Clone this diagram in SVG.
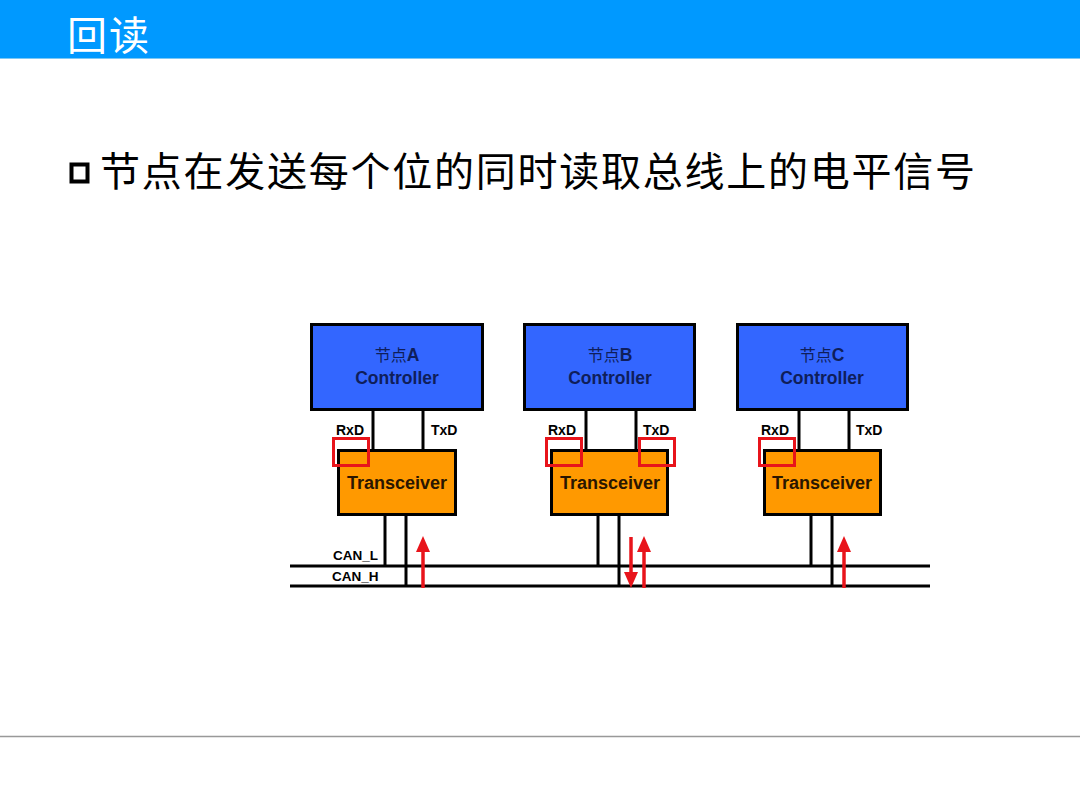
<svg xmlns="http://www.w3.org/2000/svg" width="1080" height="810" viewBox="0 0 1080 810">
<defs>
<style>
.ctrl{fill:#3366FF;stroke:#000;stroke-width:3}
.trx{fill:#FF9900;stroke:#000;stroke-width:3}
.ctext{font-family:"Liberation Sans","Noto Sans CJK SC",sans-serif;font-size:17.5px;font-weight:bold;fill:#0F1E5A;text-anchor:middle}
.cjk{font-weight:normal;font-size:16px}
.ttext{font-family:"Liberation Sans",sans-serif;font-size:18px;font-weight:bold;fill:#2A1600;text-anchor:middle}
.lbl{font-family:"Liberation Sans",sans-serif;font-size:14px;font-weight:bold;fill:#000}
.bus{font-family:"Liberation Sans",sans-serif;font-size:13.5px;font-weight:bold;fill:#000}
.wire{stroke:#000;stroke-width:3;fill:none}
.hl{fill:none;stroke:#E8141B;stroke-width:3}
.arr{stroke:#E8141B;stroke-width:3.5;fill:none}
.ah{fill:#E8141B}
</style>
</defs>
<rect x="0" y="0" width="1080" height="810" fill="#FFFFFF"/>
<rect x="0" y="0" width="1080" height="58" fill="#0099FF"/>
<line x1="0" y1="58.5" x2="1080" y2="58.5" stroke="#7CC8F5" stroke-width="1"/>
<text x="67" y="50" font-family="'Noto Sans CJK SC',sans-serif" font-size="40" fill="#FFFFFF" textLength="82">回读</text>
<rect x="71.5" y="164.5" width="16" height="17" fill="none" stroke="#000" stroke-width="4"/>
<text x="100" y="186" font-family="'Noto Sans CJK SC',sans-serif" font-size="40" fill="#000" textLength="875" lengthAdjust="spacing">节点在发送每个位的同时读取总线上的电平信号</text>
<line x1="0" y1="736.5" x2="1080" y2="736.5" stroke="#999999" stroke-width="1.5"/>

<g id="connectors">
<line class="wire" x1="290" y1="566" x2="930" y2="566"/>
<line class="wire" x1="290" y1="586" x2="930" y2="586"/>
<line class="wire" x1="373" y1="410" x2="373" y2="450"/>
<line class="wire" x1="423" y1="410" x2="423" y2="450"/>
<line class="wire" x1="385" y1="515" x2="385" y2="566"/>
<line class="wire" x1="406" y1="515" x2="406" y2="586"/>
<line class="wire" x1="586" y1="410" x2="586" y2="450"/>
<line class="wire" x1="636" y1="410" x2="636" y2="450"/>
<line class="wire" x1="598" y1="515" x2="598" y2="566"/>
<line class="wire" x1="619" y1="515" x2="619" y2="586"/>
<line class="wire" x1="799" y1="410" x2="799" y2="450"/>
<line class="wire" x1="849" y1="410" x2="849" y2="450"/>
<line class="wire" x1="811" y1="515" x2="811" y2="566"/>
<line class="wire" x1="832" y1="515" x2="832" y2="586"/>
<text class="bus" x="333" y="560">CAN_L</text>
<text class="bus" x="332" y="581">CAN_H</text>
<line class="arr" x1="423" y1="588" x2="423" y2="550"/>
<polygon class="ah" points="423,536 416,552 430,552"/>
<line class="arr" x1="631" y1="537" x2="631" y2="574"/>
<polygon class="ah" points="631,588 624,572 638,572"/>
<line class="arr" x1="644" y1="588" x2="644" y2="550"/>
<polygon class="ah" points="644,536 637,552 651,552"/>
<line class="arr" x1="844" y1="588" x2="844" y2="550"/>
<polygon class="ah" points="844,536 837,552 851,552"/>
</g>

<g id="nodeA">
<rect class="ctrl" x="311.5" y="324.5" width="171" height="85"/>
<text class="ctext" x="397" y="361"><tspan class="cjk">节点</tspan>A</text>
<text class="ctext" x="397" y="384">Controller</text>
<text class="lbl" x="336" y="435">RxD</text>
<text class="lbl" x="431" y="435">TxD</text>
<rect class="trx" x="338.5" y="450.5" width="117" height="64"/>
<text class="ttext" x="397" y="489">Transceiver</text>
<rect class="hl" x="333.5" y="438.5" width="35" height="27"/>
</g>

<g id="nodeB">
<rect class="ctrl" x="524.5" y="324.5" width="170" height="85"/>
<text class="ctext" x="610" y="361"><tspan class="cjk">节点</tspan>B</text>
<text class="ctext" x="610" y="384">Controller</text>
<text class="lbl" x="548" y="435">RxD</text>
<text class="lbl" x="643" y="435">TxD</text>
<rect class="trx" x="551.5" y="450.5" width="116" height="64"/>
<text class="ttext" x="610" y="489">Transceiver</text>
<rect class="hl" x="546.5" y="438.5" width="35" height="27"/>
<rect class="hl" x="639.5" y="438.5" width="35" height="27"/>
</g>

<g id="nodeC">
<rect class="ctrl" x="737.5" y="324.5" width="170" height="85"/>
<text class="ctext" x="822" y="361"><tspan class="cjk">节点</tspan>C</text>
<text class="ctext" x="822" y="384">Controller</text>
<text class="lbl" x="761" y="435">RxD</text>
<text class="lbl" x="856" y="435">TxD</text>
<rect class="trx" x="764.5" y="450.5" width="116" height="64"/>
<text class="ttext" x="822" y="489">Transceiver</text>
<rect class="hl" x="759.5" y="438.5" width="35" height="27"/>
</g>
</svg>
